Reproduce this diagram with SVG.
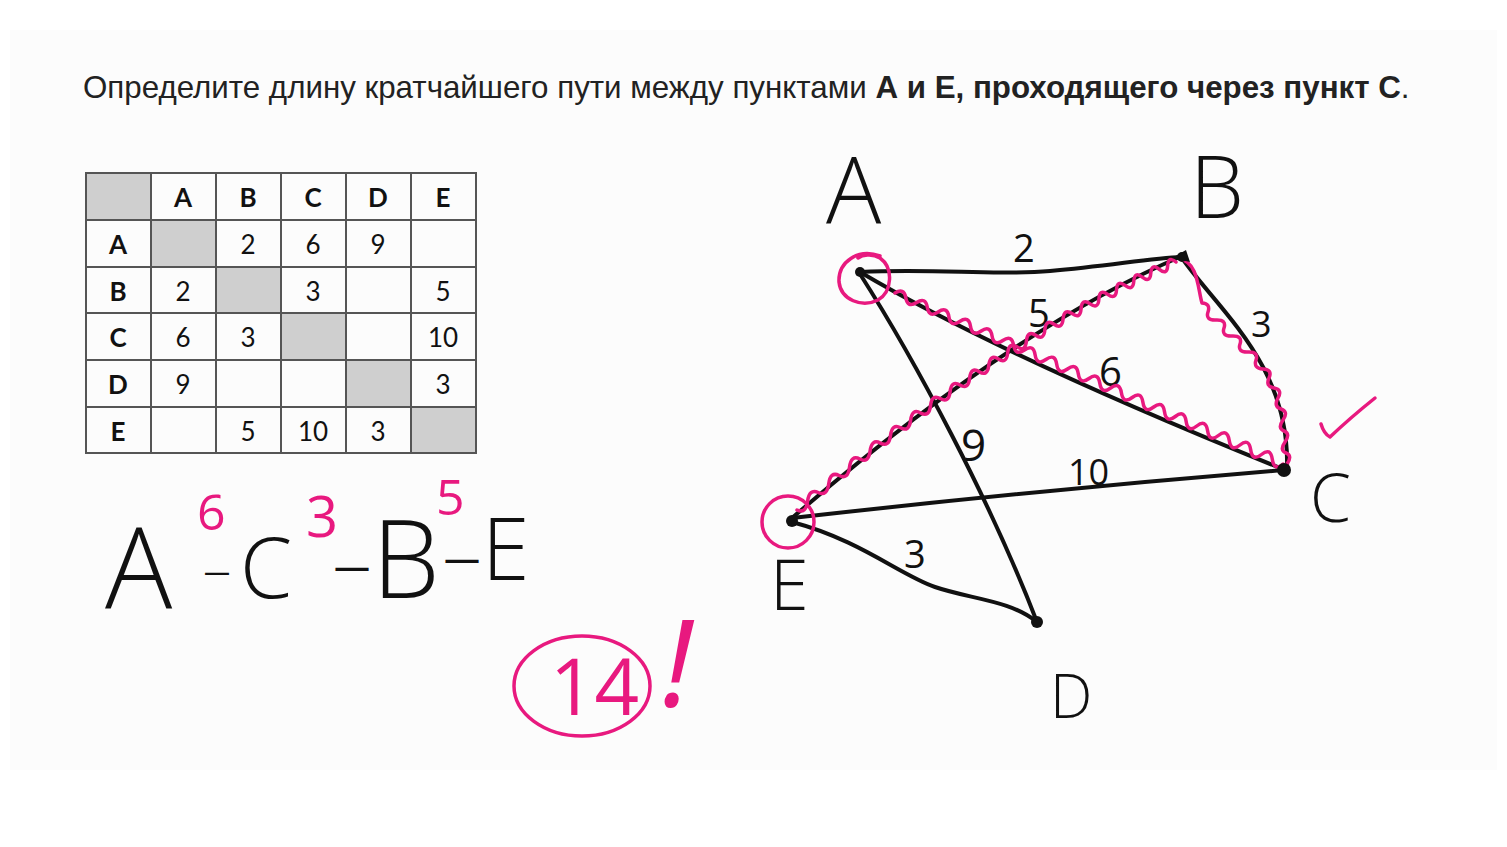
<svg xmlns="http://www.w3.org/2000/svg" width="1507" height="847" viewBox="0 0 1507 847">
<style>
.title{font-family:"Liberation Sans",Arial,sans-serif;font-size:31.3px;fill:#222}
.tb{font-family:Lato,"Open Sans",sans-serif;font-size:26px;fill:#111;text-anchor:middle}
.tbb{font-weight:bold}
.grid{stroke:#555;stroke-width:2;fill:none}
.gray{fill:#cfcfcf}
.hw{font-family:"Open Sans","DejaVu Sans",sans-serif;font-weight:300;fill:#111}
.hwn{font-family:"Open Sans","DejaVu Sans",sans-serif;font-weight:400;fill:#111}
.dash{font-family:"Open Sans","DejaVu Sans",sans-serif;font-weight:600;fill:#111}
.hwp{font-family:"Open Sans","DejaVu Sans",sans-serif;font-weight:400;fill:#e8197f}
.edge{fill:none;stroke:#111;stroke-width:4;stroke-linecap:round}
.pink{fill:none;stroke:#e8197f;stroke-width:3.5;stroke-linecap:round;stroke-linejoin:round}
.dot{fill:#111}
</style>
<rect x="0" y="0" width="1507" height="847" fill="#ffffff"/>
<rect x="10" y="30" width="1487" height="740" fill="#fcfcfc"/>

<g id="title">
<text class="title" x="83" y="98">Определите длину кратчайшего пути между пунктами <tspan font-weight="bold">А и Е, проходящего через пункт С</tspan>.</text>
</g>

<g id="table">
<rect class="gray" x="86" y="173" width="65" height="47"/>
<rect class="gray" x="151" y="220" width="65" height="47"/>
<rect class="gray" x="216" y="267" width="65" height="46"/>
<rect class="gray" x="281" y="313" width="65" height="47"/>
<rect class="gray" x="346" y="360" width="65" height="47"/>
<rect class="gray" x="411" y="407" width="65" height="46"/>
<rect class="grid" x="86" y="173" width="390" height="280"/>
<path class="grid" d="M151 173V453M216 173V453M281 173V453M346 173V453M411 173V453M86 220H476M86 267H476M86 313H476M86 360H476M86 407H476"/>
<g class="tb tbb">
<text x="183" y="207">A</text><text x="248" y="207">B</text><text x="313" y="207">C</text><text x="378" y="207">D</text><text x="443" y="207">E</text>
<text x="118" y="254">A</text><text x="118" y="301">B</text><text x="118" y="347">C</text><text x="118" y="394">D</text><text x="118" y="441">E</text>
</g>
<g class="tb">
<text x="248" y="254">2</text><text x="313" y="254">6</text><text x="378" y="254">9</text>
<text x="183" y="301">2</text><text x="313" y="301">3</text><text x="443" y="301">5</text>
<text x="183" y="347">6</text><text x="248" y="347">3</text><text x="443" y="347">10</text>
<text x="183" y="394">9</text><text x="443" y="394">3</text>
<text x="248" y="441">5</text><text x="313" y="441">10</text><text x="378" y="441">3</text>
</g>
</g>

<g id="connectors">
<path id="e-AB" class="edge" d="M860 272 C940 268 990 276 1050 271 S1150 258 1182 257"/>
<path id="e-AC" class="edge" d="M860 272 Q1000 355 1285 470"/>
<path id="e-AD" class="edge" d="M860 274 C915 360 990 500 1037 622"/>
<path id="e-BC" class="edge" d="M1182 258 C1218 310 1290 365 1287 468"/>
<path id="e-BE" class="edge" d="M1182 256 Q1010 330 792 518"/>
<path id="e-CE" class="edge" d="M1285 470 Q1040 490 792 518"/>
<path id="e-ED" class="edge" d="M792 522 C860 540 900 575 935 587 S1010 600 1037 622"/>
<g class="hwn">
<text x="1013" y="262" font-size="38">2</text>
<text x="1028" y="327" font-size="38">5</text>
<text x="1099" y="386" font-size="40">6</text>
<text x="961" y="461" font-size="44">9</text>
<text x="1251" y="337" font-size="36">3</text>
<text x="1068" y="485" font-size="36">10</text>
<text x="904" y="568" font-size="38">3</text>
</g>
<path id="p-AC" class="pink" d="M895 293 Q904 287.2 905.8 297.8 T916.6 302.5 T927.3 307.3 T938.1 312 T948.9 316.8 T959.7 321.5 T970.5 326.3 T981.2 331 T992 335.8 T1002.8 340.5 T1013.6 345.3 T1024.4 350 T1035.1 354.8 T1045.9 359.5 T1056.7 364.3 T1067.5 369 T1078.3 373.8 T1089 378.5 T1099.8 383.3 T1110.6 388 T1121.4 392.8 T1132.2 397.5 T1142.9 402.3 T1153.7 407 T1164.5 411.8 T1175.3 416.5 T1186.1 421.3 T1196.8 426 T1207.6 430.8 T1218.4 435.5 T1229.2 440.3 T1240 445 T1250.7 449.8 T1261.5 454.5 T1272.3 459.3 T1283 464"/>
<path id="p-BC" class="pink" d="M1180 259 C1198 262 1198 290 1202 303 Q1210.8 303.6 1208 312 T1216 320 T1224 328 T1232 336 T1240 344 T1248 352 T1256 360 T1263 369 T1269 378 T1274 388 T1278 398 T1281 409 T1283 420 T1284 431 T1285 442 T1286 453 T1287 464"/>
<path id="p-BE" class="pink" d="M1176 262 Q1168.3 255.5 1167.7 265.6 T1159.3 269.3 T1150.8 273.1 T1142.3 277.1 T1133.8 281.2 T1125.1 285.4 T1116.5 289.8 T1107.7 294.3 T1098.9 299 T1090.1 303.8 T1081.1 308.7 T1072.2 313.7 T1063.1 318.9 T1054 324.2 T1044.9 329.7 T1035.7 335.3 T1026.4 341 T1017.1 346.9 T1007.7 352.9 T998.3 359 T988.8 365.3 T979.2 371.7 T969.6 378.2 T959.9 384.9 T950.1 391.7 T940.3 398.6 T930.5 405.7 T920.6 412.9 T910.6 420.3 T900.6 427.8 T890.5 435.4 T880.3 443.1 T870.1 451 T859.8 459 T849.5 467.2 T839.1 475.5 T828.7 483.9 T818.2 492.5 T807.6 501.2 T797 510"/>
<path class="pink" d="M1321 424 Q1324 434 1330 437 Q1350 418 1375 398"/>
</g>

<g id="node-A">
<circle class="dot" cx="860" cy="272" r="5"/>
<path class="pink" d="M880 256 C858 248 838 262 839 282 C841 300 862 308 878 300 C892 292 894 268 880 258 C872 253 862 255 858 258"/>
<text class="hw" x="826" y="223" font-size="92">A</text>
</g>
<g id="node-B">
<path class="dot" d="M1172 258 L1186 250 L1190 262 Z"/>
<circle class="dot" cx="1182" cy="257" r="5"/>
<text class="hw" x="1190" y="218" font-size="86">B</text>
</g>
<g id="node-C">
<circle class="dot" cx="1284" cy="470" r="7"/>
<text class="hw" x="1310" y="522" font-size="66">C</text>
</g>
<g id="node-D">
<circle class="dot" cx="1037" cy="622" r="6"/>
<text class="hw" x="1050" y="718" font-size="60">D</text>
</g>
<g id="node-E">
<circle class="dot" cx="792" cy="521" r="6"/>
<circle class="pink" cx="788" cy="522" r="26"/>
<text class="hw" x="770" y="610" font-size="70">E</text>
</g>

<g id="path-answer">
<text class="hw" x="105" y="608" font-size="112">A</text>
<text class="dash" x="204" y="581" font-size="26">—</text>
<text class="hw" x="240" y="598" font-size="84">C</text>
<text class="dash" x="334" y="579" font-size="36">—</text>
<text class="hw" x="372" y="598" font-size="108">B</text>
<text class="dash" x="444" y="571" font-size="36">—</text>
<text class="hw" x="482" y="580" font-size="86">E</text>
<text class="hwp" x="197" y="530" font-size="50">6</text>
<text class="hwp" x="306" y="537" font-size="56">3</text>
<text class="hwp" x="436" y="515" font-size="50">5</text>
</g>
<g id="answer">
<ellipse class="pink" cx="582" cy="686" rx="68" ry="50"/>
<text class="hwp" x="550" y="715" font-size="78" font-weight="300">14</text>
<text class="hwp" x="662" y="706" font-size="120" font-weight="300" font-style="italic">!</text>
</g>
</svg>
